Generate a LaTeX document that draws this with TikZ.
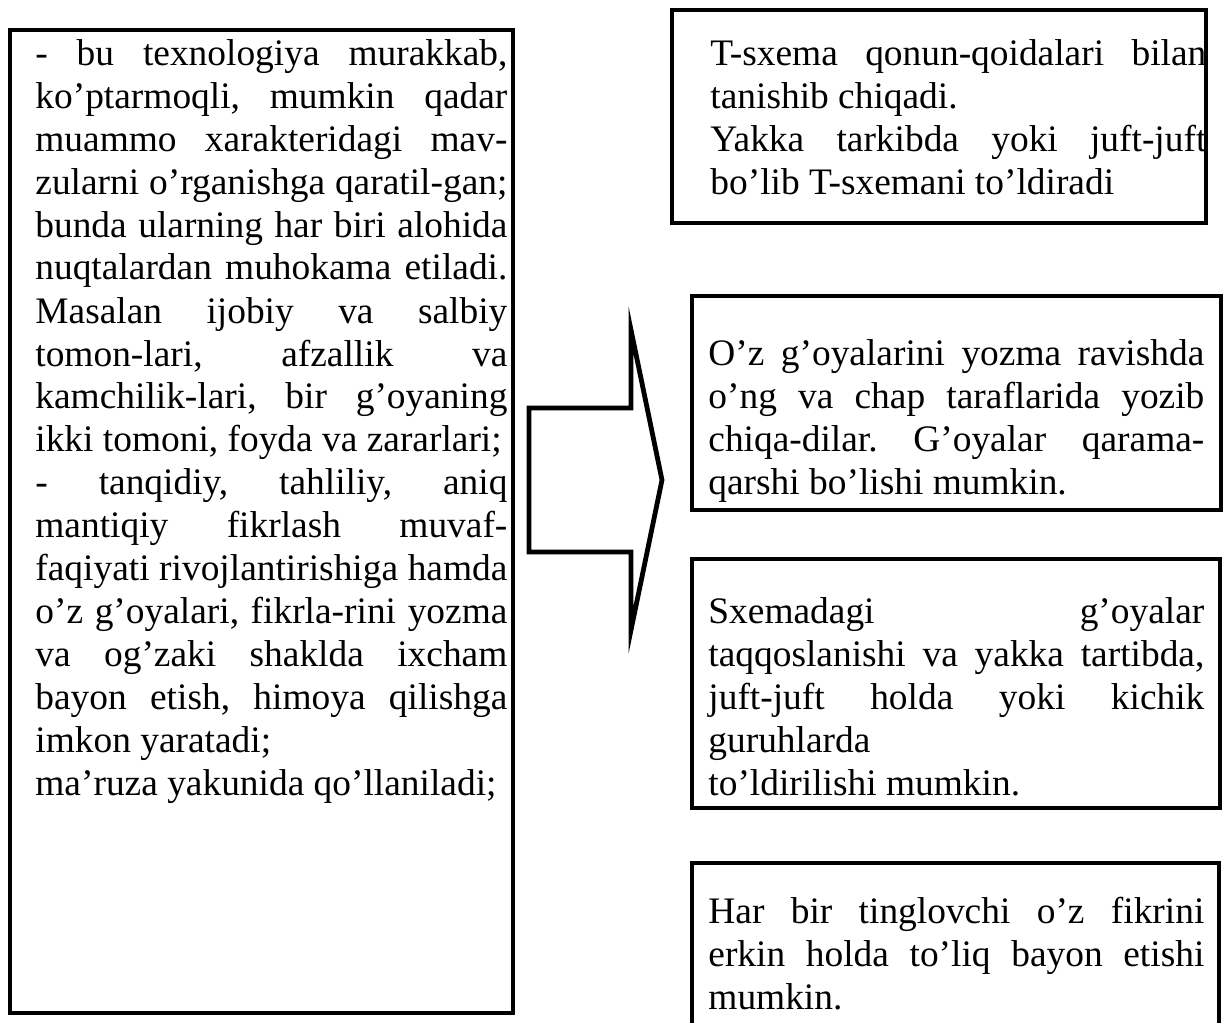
\documentclass[tikz,border=0pt]{standalone}
\usepackage{fontspec}
\setmainfont{Liberation Serif}
\usetikzlibrary{fit}
\hyphenpenalty=10000
\exhyphenpenalty=10000
\tolerance=10000
\hbadness=10000
\frenchspacing
\tikzset{
    frame/.style={draw, line width=2pt, inner sep=0pt},
    txt/.style={anchor=base west, inner sep=0pt, align=justify, font=\fontsize{18.7}{21.5}\selectfont},
    lefttxt/.style={txt, text width=236pt},
    righttxt/.style={txt, text width=248pt},
    bigarrow/.style={draw, line width=2.4pt, miter limit=25}
}

\begin{document}
\begin{tikzpicture}[x=0.5pt, y=-0.5pt]
\useasboundingbox (0,0) rectangle (1223,1023);
\clip (0,0) rectangle (1223,1023);

% Left column
\node[frame, fit={(10,30) (513,1013)}] (leftbox) {};
\node[lefttxt] (lefttext) at (35,65) {%
- bu texnologiya murakkab,\linebreak
ko’ptarmoqli, mumkin qadar\linebreak
muammo xarakteridagi mav-\linebreak
zularni o’rganishga qaratil-gan;\linebreak
bunda ularning har biri alohida\linebreak
nuqtalardan muhokama etiladi.\linebreak
Masalan ijobiy va salbiy\linebreak
tomon-lari, afzallik va\linebreak
kamchilik-lari, bir g’oyaning\linebreak
ikki tomoni, foyda va zararlari;\par
- tanqidiy, tahliliy, aniq\linebreak
mantiqiy fikrlash muvaf-\linebreak
faqiyati rivojlantirishiga hamda\linebreak
o’z g’oyalari, fikrla-rini yozma\linebreak
va og’zaki shaklda ixcham\linebreak
bayon etish, himoya qilishga\linebreak
imkon yaratadi;\par
ma’ruza yakunida qo’llaniladi;};

% Block arrow
\draw[bigarrow] (529,408) -- (631,408) -- (631,330) -- (662,480) -- (631,630)
    -- (631,552) -- (529,552) -- cycle;

% Right column
\node[frame, fit={(672,10) (1206,223)}] (rulebox) {};
\node[righttxt] (ruletext) at (710,65) {%
T-sxema qonun-qoidalari bilan\linebreak
tanishib chiqadi.\par
Yakka tarkibda yoki juft-juft\linebreak
bo’lib T-sxemani to’ldiradi};

\node[frame, fit={(692,296) (1221,510)}] (ideabox) {};
\node[righttxt] (ideatext) at (708,365) {%
O’z g’oyalarini yozma ravishda\linebreak
o’ng va chap taraflarida yozib\linebreak
chiqa-dilar. G’oyalar qarama-\linebreak
qarshi bo’lishi mumkin.};

\node[frame, fit={(692,559) (1220,808)}] (comparebox) {};
\node[righttxt] (comparetext) at (708,623) {%
Sxemadagi g’oyalar\linebreak
taqqoslanishi va yakka tartibda,\linebreak
juft-juft holda yoki kichik\linebreak
guruhlarda\par
to’ldirilishi mumkin.};

\node[frame, fit={(692,863) (1219,1060)}] (freebox) {};
\node[righttxt] (freetext) at (708,923) {%
Har bir tinglovchi o’z fikrini\linebreak
erkin holda to’liq bayon etishi\linebreak
mumkin.};
\end{tikzpicture}
\end{document}
